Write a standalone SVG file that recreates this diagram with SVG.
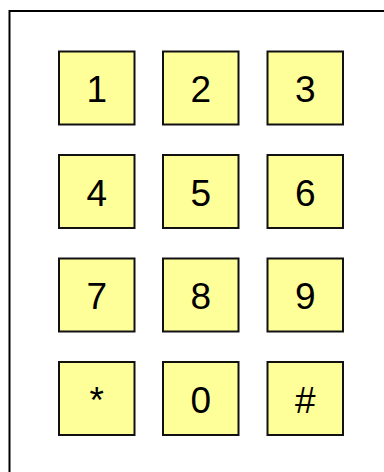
<svg xmlns="http://www.w3.org/2000/svg" width="384" height="472" viewBox="0 0 384 472">
  <style>
    .key rect { fill: #ffff99; stroke: #111111; stroke-width: 2; }
    .key text { font-family: "Liberation Sans", Arial, sans-serif; font-size: 37px; fill: #000000; text-anchor: middle; }
  </style>
  <rect x="0" y="0" width="384" height="472" fill="#ffffff"/>
  <g id="frame">
    <rect x="9.5" y="11" width="420" height="500" fill="none" stroke="#000000" stroke-width="2"/>
  </g>
  <g id="connectors"></g>
  <g id="key-1" class="key"><rect x="59" y="51.5" width="75.5" height="73"/><text x="96.8" y="102">1</text></g>
  <g id="key-2" class="key"><rect x="163" y="51.5" width="75.5" height="73"/><text x="200.8" y="102">2</text></g>
  <g id="key-3" class="key"><rect x="267.5" y="51.5" width="75.5" height="73"/><text x="305.2" y="102">3</text></g>
  <g id="key-4" class="key"><rect x="59" y="155" width="75.5" height="73"/><text x="96.8" y="205.5">4</text></g>
  <g id="key-5" class="key"><rect x="163" y="155" width="75.5" height="73"/><text x="200.8" y="205.5">5</text></g>
  <g id="key-6" class="key"><rect x="267.5" y="155" width="75.5" height="73"/><text x="305.2" y="205.5">6</text></g>
  <g id="key-7" class="key"><rect x="59" y="258.5" width="75.5" height="73"/><text x="96.8" y="309">7</text></g>
  <g id="key-8" class="key"><rect x="163" y="258.5" width="75.5" height="73"/><text x="200.8" y="309">8</text></g>
  <g id="key-9" class="key"><rect x="267.5" y="258.5" width="75.5" height="73"/><text x="305.2" y="309">9</text></g>
  <g id="key-star" class="key"><rect x="59" y="362" width="75.5" height="73"/><text x="96.8" y="412.5">*</text></g>
  <g id="key-0" class="key"><rect x="163" y="362" width="75.5" height="73"/><text x="200.8" y="412.5">0</text></g>
  <g id="key-hash" class="key"><rect x="267.5" y="362" width="75.5" height="73"/><text x="305.2" y="412.5">#</text></g>
</svg>
